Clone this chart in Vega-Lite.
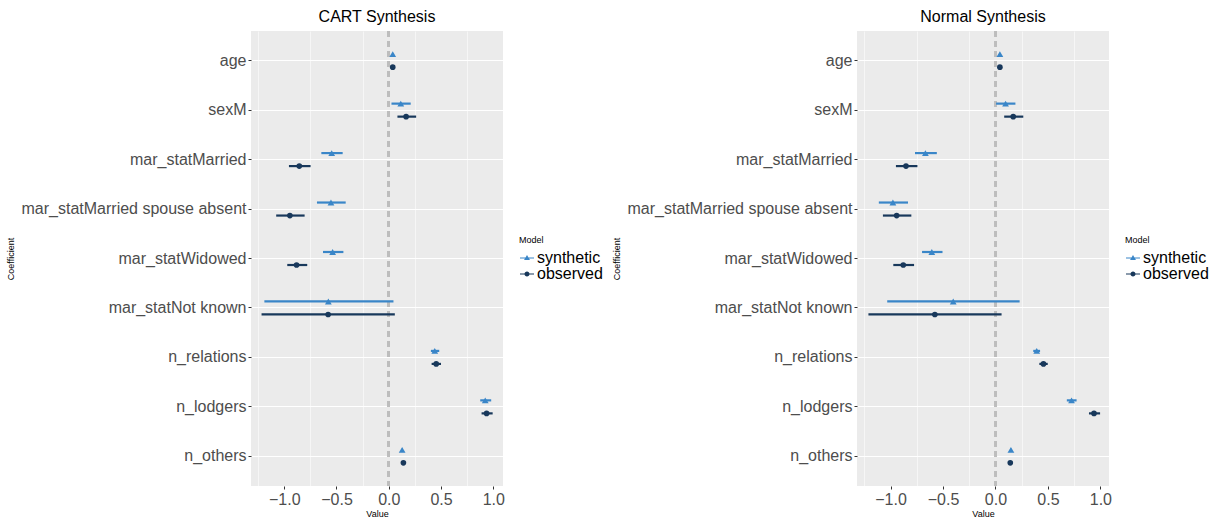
{
  "$schema": "https://vega.github.io/schema/vega-lite/v6.json",
  "padding": {"left": 5, "top": 9, "right": 0, "bottom": 0},
  "spacing": 8,
  "datasets": {
    "cart": [
      {"term": "age", "model": "synthetic", "est": 0.038, "lo": 0.031, "hi": 0.045},
      {"term": "age", "model": "observed", "est": 0.038, "lo": 0.031, "hi": 0.045},
      {"term": "sexM", "model": "synthetic", "est": 0.115, "lo": 0.026, "hi": 0.21},
      {"term": "sexM", "model": "observed", "est": 0.166, "lo": 0.083, "hi": 0.262},
      {"term": "mar_statMarried", "model": "synthetic", "est": -0.546, "lo": -0.645, "hi": -0.441},
      {"term": "mar_statMarried", "model": "observed", "est": -0.856, "lo": -0.955, "hi": -0.748},
      {"term": "mar_statMarried spouse absent", "model": "synthetic", "est": -0.553, "lo": -0.687, "hi": -0.412},
      {"term": "mar_statMarried spouse absent", "model": "observed", "est": -0.946, "lo": -1.077, "hi": -0.805},
      {"term": "mar_statWidowed", "model": "synthetic", "est": -0.537, "lo": -0.629, "hi": -0.434},
      {"term": "mar_statWidowed", "model": "observed", "est": -0.882, "lo": -0.971, "hi": -0.78},
      {"term": "mar_statNot known", "model": "synthetic", "est": -0.578, "lo": -1.19, "hi": 0.045},
      {"term": "mar_statNot known", "model": "observed", "est": -0.58, "lo": -1.217, "hi": 0.058},
      {"term": "n_relations", "model": "synthetic", "est": 0.44, "lo": 0.403, "hi": 0.483},
      {"term": "n_relations", "model": "observed", "est": 0.454, "lo": 0.41, "hi": 0.5},
      {"term": "n_lodgers", "model": "synthetic", "est": 0.923, "lo": 0.875, "hi": 0.98},
      {"term": "n_lodgers", "model": "observed", "est": 0.936, "lo": 0.888, "hi": 0.994},
      {"term": "n_others", "model": "synthetic", "est": 0.128, "lo": 0.12, "hi": 0.136},
      {"term": "n_others", "model": "observed", "est": 0.14, "lo": 0.132, "hi": 0.148}
    ],
    "normal": [
      {"term": "age", "model": "synthetic", "est": 0.042, "lo": 0.035, "hi": 0.049},
      {"term": "age", "model": "observed", "est": 0.042, "lo": 0.035, "hi": 0.049},
      {"term": "sexM", "model": "synthetic", "est": 0.096, "lo": 0.006, "hi": 0.19},
      {"term": "sexM", "model": "observed", "est": 0.169, "lo": 0.083, "hi": 0.265},
      {"term": "mar_statMarried", "model": "synthetic", "est": -0.668, "lo": -0.767, "hi": -0.559},
      {"term": "mar_statMarried", "model": "observed", "est": -0.853, "lo": -0.949, "hi": -0.744},
      {"term": "mar_statMarried spouse absent", "model": "synthetic", "est": -0.978, "lo": -1.112, "hi": -0.834},
      {"term": "mar_statMarried spouse absent", "model": "observed", "est": -0.942, "lo": -1.073, "hi": -0.802},
      {"term": "mar_statWidowed", "model": "synthetic", "est": -0.607, "lo": -0.7, "hi": -0.505},
      {"term": "mar_statWidowed", "model": "observed", "est": -0.879, "lo": -0.974, "hi": -0.776},
      {"term": "mar_statNot known", "model": "synthetic", "est": -0.403, "lo": -1.032, "hi": 0.23},
      {"term": "mar_statNot known", "model": "observed", "est": -0.578, "lo": -1.211, "hi": 0.058},
      {"term": "n_relations", "model": "synthetic", "est": 0.393, "lo": 0.36, "hi": 0.425},
      {"term": "n_relations", "model": "observed", "est": 0.457, "lo": 0.418, "hi": 0.498},
      {"term": "n_lodgers", "model": "synthetic", "est": 0.725, "lo": 0.68, "hi": 0.773},
      {"term": "n_lodgers", "model": "observed", "est": 0.939, "lo": 0.891, "hi": 0.997},
      {"term": "n_others", "model": "synthetic", "est": 0.147, "lo": 0.139, "hi": 0.155},
      {"term": "n_others", "model": "observed", "est": 0.141, "lo": 0.133, "hi": 0.149}
    ]
  },
  "hconcat": [
    {
      "title": {"text": "CART Synthesis"},
      "width": 252,
      "height": 455,
      "data": {"name": "cart"},
      "layer": [
        {
          "mark": {"type": "rule", "color": "#bdbdbd", "strokeWidth": 2, "strokeDash": [6, 4]},
          "encoding": {
            "x": {"datum": 0, "type": "quantitative",
              "scale": {"domain": [-1.318, 1.093], "nice": false, "zero": false},
              "axis": {"orient": "bottom", "values": [-1.25, -0.75, -0.25, 0.25, 0.75], "grid": true, "gridWidth": 0.55, "gridColor": "#ffffff", "labels": false, "ticks": false, "domain": false, "title": null}}
          }
        },
        {
          "mark": {"type": "rule", "strokeWidth": 2.2},
          "encoding": {
            "y": {"field": "term", "type": "nominal",
              "sort": ["age", "sexM", "mar_statMarried", "mar_statMarried spouse absent", "mar_statWidowed", "mar_statNot known", "n_relations", "n_lodgers", "n_others"],
              "scale": {"type": "band", "paddingInner": 0, "paddingOuter": 0.1},
              "axis": {"title": "Coefficient", "titleX": -236}},
            "yOffset": {"field": "model", "type": "nominal", "scale": {"domain": ["synthetic", "observed"], "paddingInner": 0, "paddingOuter": 0.9}},
            "x": {"field": "lo", "type": "quantitative",
              "scale": {"domain": [-1.318, 1.093], "nice": false, "zero": false},
              "axis": {"orient": "bottom", "values": [-1, -0.5, 0, 0.5, 1], "format": ".1f", "title": "Value"}},
            "x2": {"field": "hi"},
            "color": {"field": "model", "type": "nominal",
              "scale": {"domain": ["synthetic", "observed"], "range": ["#3a86c8", "#18385b"]},
              "legend": {"title": "Model", "orient": "none", "legendX": 268, "legendY": 205,
                "encode": {"symbols": {"update": {
                  "shape": {"signal": "datum.value === 'synthetic' ? 'M-1,-0.08H1V0.08H-1Z M0,-0.42L0.42,0.3L-0.42,0.3Z' : 'M-1,-0.08H1V0.08H-1Z M0.36,0A0.36,0.36 0 1,1 -0.36,0A0.36,0.36 0 1,1 0.36,0Z'"},
                  "fill": {"signal": "datum.value === 'synthetic' ? '#3a86c8' : '#18385b'"},
                  "strokeWidth": {"value": 0},
                  "opacity": {"value": 1}
                }}}}}
          }
        },
        {
          "mark": {"type": "point", "filled": true, "opacity": 1},
          "encoding": {
            "y": {"field": "term", "type": "nominal",
              "sort": ["age", "sexM", "mar_statMarried", "mar_statMarried spouse absent", "mar_statWidowed", "mar_statNot known", "n_relations", "n_lodgers", "n_others"]},
            "yOffset": {"field": "model", "type": "nominal"},
            "x": {"field": "est", "type": "quantitative", "axis": null},
            "color": {"field": "model", "type": "nominal"},
            "shape": {"field": "model", "type": "nominal", "scale": {"domain": ["synthetic", "observed"], "range": ["triangle-up", "circle"]}, "legend": null},
            "size": {"field": "model", "type": "nominal", "scale": {"domain": ["synthetic", "observed"], "range": [46, 32]}, "legend": null}
          }
        }
      ],
      "resolve": {"axis": {"x": "independent"}}
    },
    {
      "title": {"text": "Normal Synthesis"},
      "width": 252,
      "height": 455,
      "data": {"name": "normal"},
      "layer": [
        {
          "mark": {"type": "rule", "color": "#bdbdbd", "strokeWidth": 2, "strokeDash": [6, 4]},
          "encoding": {
            "x": {"datum": 0, "type": "quantitative",
              "scale": {"domain": [-1.32, 1.082], "nice": false, "zero": false},
              "axis": {"orient": "bottom", "values": [-1.25, -0.75, -0.25, 0.25, 0.75], "grid": true, "gridWidth": 0.55, "gridColor": "#ffffff", "labels": false, "ticks": false, "domain": false, "title": null}}
          }
        },
        {
          "mark": {"type": "rule", "strokeWidth": 2.2},
          "encoding": {
            "y": {"field": "term", "type": "nominal",
              "sort": ["age", "sexM", "mar_statMarried", "mar_statMarried spouse absent", "mar_statWidowed", "mar_statNot known", "n_relations", "n_lodgers", "n_others"],
              "scale": {"type": "band", "paddingInner": 0, "paddingOuter": 0.1},
              "axis": {"title": "Coefficient", "titleX": -236}},
            "yOffset": {"field": "model", "type": "nominal", "scale": {"domain": ["synthetic", "observed"], "paddingInner": 0, "paddingOuter": 0.9}},
            "x": {"field": "lo", "type": "quantitative",
              "scale": {"domain": [-1.32, 1.082], "nice": false, "zero": false},
              "axis": {"orient": "bottom", "values": [-1, -0.5, 0, 0.5, 1], "format": ".1f", "title": "Value"}},
            "x2": {"field": "hi"},
            "color": {"field": "model", "type": "nominal",
              "scale": {"domain": ["synthetic", "observed"], "range": ["#3a86c8", "#18385b"]},
              "legend": {"title": "Model", "orient": "none", "legendX": 268, "legendY": 205,
                "encode": {"symbols": {"update": {
                  "shape": {"signal": "datum.value === 'synthetic' ? 'M-1,-0.08H1V0.08H-1Z M0,-0.42L0.42,0.3L-0.42,0.3Z' : 'M-1,-0.08H1V0.08H-1Z M0.36,0A0.36,0.36 0 1,1 -0.36,0A0.36,0.36 0 1,1 0.36,0Z'"},
                  "fill": {"signal": "datum.value === 'synthetic' ? '#3a86c8' : '#18385b'"},
                  "strokeWidth": {"value": 0},
                  "opacity": {"value": 1}
                }}}}}
          }
        },
        {
          "mark": {"type": "point", "filled": true, "opacity": 1},
          "encoding": {
            "y": {"field": "term", "type": "nominal",
              "sort": ["age", "sexM", "mar_statMarried", "mar_statMarried spouse absent", "mar_statWidowed", "mar_statNot known", "n_relations", "n_lodgers", "n_others"]},
            "yOffset": {"field": "model", "type": "nominal"},
            "x": {"field": "est", "type": "quantitative", "axis": null},
            "color": {"field": "model", "type": "nominal"},
            "shape": {"field": "model", "type": "nominal", "scale": {"domain": ["synthetic", "observed"], "range": ["triangle-up", "circle"]}, "legend": null},
            "size": {"field": "model", "type": "nominal", "scale": {"domain": ["synthetic", "observed"], "range": [46, 32]}, "legend": null}
          }
        }
      ],
      "resolve": {"axis": {"x": "independent"}}
    }
  ],
  "resolve": {"legend": {"color": "independent"}, "scale": {"color": "independent", "x": "independent", "y": "independent", "yOffset": "independent"}},
  "config": {
    "font": "Liberation Sans",
    "view": {"fill": "#EBEBEB", "stroke": null},
    "title": {"fontSize": 16, "fontWeight": "normal", "color": "#000000", "frame": "group", "anchor": "middle", "offset": 5},
    "axis": {
      "labelFontSize": 16, "labelColor": "#4d4d4d", "tickColor": "#333333", "tickSize": 3, "tickWidth": 1,
      "labelPadding": 2, "gridColor": "#ffffff", "gridWidth": 1.1, "domain": false, "labelLimit": 0,
      "titleFontSize": 9, "titleFontWeight": "normal", "titleColor": "#000000", "titlePadding": 3
    },
    "axisY": {"grid": true, "labelPadding": 2},
    "axisX": {"grid": true, "labelPadding": 2, "titlePadding": 2},
    "legend": {"titleFontSize": 9, "titleFontWeight": "normal", "titleColor": "#000000", "labelFontSize": 16, "labelColor": "#000000", "symbolSize": 196, "rowPadding": 0, "titlePadding": 5, "labelOffset": 2}
  }
}
